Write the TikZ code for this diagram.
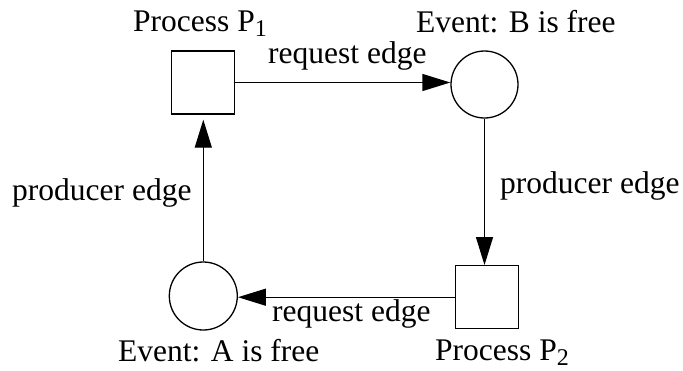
\documentclass[tikz,border=0pt]{standalone}
\usepackage{fontspec}
\setmainfont{Liberation Serif}
\usetikzlibrary{arrows.meta,calc}

\tikzset{
  proc/.style={draw, line width=1.3pt, rectangle, minimum size=63pt, inner sep=0pt},
  evt/.style={draw, line width=1.3pt, circle, minimum size=67pt, inner sep=0pt},
  edgeline/.style={line width=1.3pt, -{Triangle[length=28pt,width=17pt]}},
  lbl/.style={anchor=base west, inner sep=0pt, font=\fontsize{31.5}{36}\selectfont},
}
\newcommand{\subidx}[1]{\raisebox{-5pt}{\fontsize{24}{24}\selectfont #1}}

\begin{document}
\begin{tikzpicture}[x=1pt,y=-1pt]
  \useasboundingbox (0,0) rectangle (683,370);

  % processes and events
  \node[proc] (P1) at (203.3,82.5) {};
  \node[evt]  (B)  at (484.5,84.5) {};
  \node[proc] (P2) at (487.2,297.2) {};
  \node[evt, minimum size=68pt] (A) at (203.3,296) {};

  % edges of the cycle
  \draw[edgeline] (P1.east) -- (P1.east -| B.west);
  \draw[edgeline] (B.south) -- (B.south |- P2.north);
  \draw[edgeline] (P2.west) -- (P2.west -| A.east);
  \draw[edgeline, shorten >=5pt] (A.north) -- (A.north |- P1.south);

  % labels
  \node[lbl] (tP1) at (133,31.7) {Process P\subidx{1}};
  \node[lbl] (tB)  at (416,32) {Event: B is free};
  \node[lbl] (tr1) at (268,63.3) {request edge};
  \node[lbl] (tp1) at (12,200) {producer edge};
  \node[lbl] (tp2) at (500,193.3) {producer edge};
  \node[lbl] (tr2) at (272,321.7) {request edge};
  \node[lbl] (tA)  at (118,361.7) {Event: A is free};
  \node[lbl] (tP2) at (435,360) {Process P\subidx{2}};
\end{tikzpicture}
\end{document}
